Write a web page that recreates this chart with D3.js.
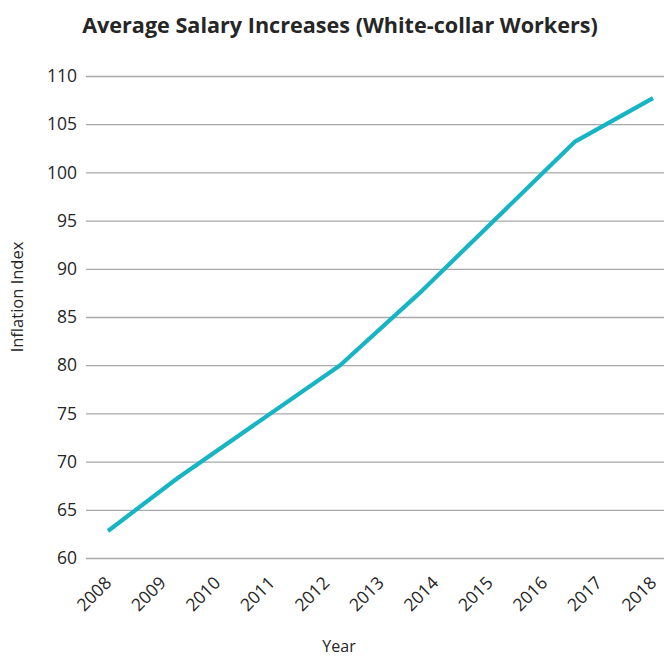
<!DOCTYPE html>
<html>
<head>
<meta charset="utf-8">
<script src="https://cdn.jsdelivr.net/npm/d3@7"></script>
<style>
  html, body { margin: 0; padding: 0; background: #fff; }
  svg { display: block; }
  text { font-family: "Open Sans", "DejaVu Sans", sans-serif; fill: #262626; }
</style>
</head>
<body>
<svg id="chart" width="664" height="656"></svg>
<script>
// Year tick labels along the bottom axis
const years = [2008, 2009, 2010, 2011, 2012, 2013, 2014, 2015, 2016, 2017, 2018];
// Index tick labels on the left axis
const indexTicks = [60, 65, 70, 75, 80, 85, 90, 95, 100, 105, 110];
// Points along the salary index line (time in years, index value)
const pointYears = [2008.0, 2009.28, 2012.26, 2013.72, 2016.57, 2018.0];
const indexValues = [62.8, 68.3, 80.0, 87.5, 103.2, 107.7];

const titleText = "Average Salary Increases (White-collar Workers)";
const xLabel = "Year";
const yLabel = "Inflation Index";

const svg = d3.select("#chart");

const x = d3.scaleLinear().domain([2008, 2018]).range([108, 653]);
const y = d3.scaleLinear().domain([60, 110]).range([558, 76]);

// Horizontal gridlines with their labels
const yAxis = d3.axisLeft(y)
  .tickValues(indexTicks)
  .tickSize(-(664 - 86))
  .tickPadding(9)
  .tickFormat(d3.format("d"));

const gy = svg.append("g")
  .attr("transform", "translate(86,0)")
  .call(yAxis);
gy.select(".domain").remove();
gy.selectAll(".tick line")
  .attr("stroke", "#a9a9a9")
  .attr("stroke-width", 1.3);
gy.selectAll(".tick text")
  .attr("font-size", 17.5)
  .attr("fill", "#262626")
  .attr("font-family", "'Open Sans', sans-serif");

// Year labels, rotated
const xAxis = d3.axisBottom(x)
  .tickValues(years)
  .tickSize(0)
  .tickFormat(d3.format("d"));

const gx = svg.append("g")
  .attr("transform", "translate(0,558)")
  .call(xAxis);
gx.select(".domain").remove();
gx.selectAll(".tick text")
  .attr("font-size", 17.5)
  .attr("fill", "#262626")
  .attr("font-family", "'Open Sans', sans-serif")
  .attr("text-anchor", "end")
  .attr("dy", null)
  .attr("y", 0)
  .attr("transform", "translate(4,26) rotate(-45)");

// Index line
const pts = pointYears.map((t, i) => [t, indexValues[i]]);
const line = d3.line()
  .x(d => x(d[0]))
  .y(d => y(d[1]));

svg.append("path")
  .datum(pts)
  .attr("fill", "none")
  .attr("stroke", "#17b4c3")
  .attr("stroke-width", 4.2)
  .attr("stroke-linejoin", "round")
  .attr("d", line);

// Title
svg.append("text")
  .attr("x", 340)
  .attr("y", 33)
  .attr("text-anchor", "middle")
  .attr("font-size", 21.6)
  .attr("font-weight", "bold")
  .attr("font-family", "Lato, sans-serif")
  .text(titleText);

// Axis titles
svg.append("text")
  .attr("x", 339)
  .attr("y", 652)
  .attr("text-anchor", "middle")
  .attr("font-size", 16)
  .text(xLabel);

svg.append("text")
  .attr("transform", "translate(23,297) rotate(-90)")
  .attr("text-anchor", "middle")
  .attr("font-size", 16.5)
  .text(yLabel);
</script>
</body>
</html>
